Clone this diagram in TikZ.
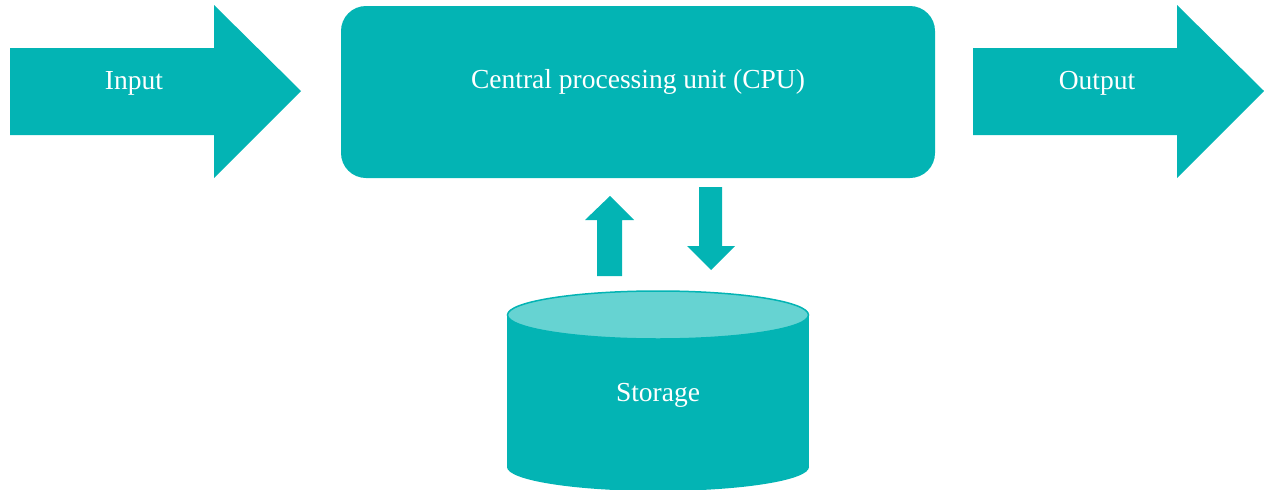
\documentclass[tikz,border=0pt]{standalone}
\usepackage{fontspec}
\setmainfont{Liberation Serif}
\definecolor{teal1}{HTML}{03B4B4}
\definecolor{tealtop}{HTML}{66D3D2}
\begin{document}
\begin{tikzpicture}[x=1pt,y=-1pt,
  shapefill/.style={fill=teal1,draw=none},
  lbl/.style={text=white,font=\fontsize{27.5}{30}\selectfont,inner sep=0pt,anchor=base}]
\useasboundingbox (0,0) rectangle (1264,490);
% Input arrow
\fill[shapefill] (10,48) -- (214,48) -- (214,5) -- (301,91) -- (214,178) -- (214,135) -- (10,135) -- cycle;
\node[lbl] (input) at (134,89) {Input};
% CPU
\fill[shapefill,rounded corners=25pt] (341,6) rectangle (935,178);
\node[lbl] (cpu) at (638,88.5) {Central processing unit (CPU)};
% Output arrow
\fill[shapefill] (973,48) -- (1177,48) -- (1177,5) -- (1264,91) -- (1177,178) -- (1177,135) -- (973,135) -- cycle;
\node[lbl] (output) at (1097,89) {Output};
% up arrow
\fill[shapefill] (597,276) -- (597,220) -- (585,220) -- (610,196) -- (634,220) -- (622,220) -- (622,276) -- cycle;
% down arrow
\fill[shapefill] (699,187) -- (722,187) -- (722,246) -- (735,246) -- (711,270) -- (687,246) -- (699,246) -- cycle;
% Storage cylinder
\fill[shapefill] (507,316) rectangle (809,467);
\fill[shapefill] (658,467) ellipse[x radius=151,y radius=24];
\filldraw[fill=tealtop,draw=teal1,line width=1.5pt] (658,315) ellipse[x radius=150.5,y radius=24];
\node[lbl] (storage) at (658,401) {Storage};
\end{tikzpicture}
\end{document}
